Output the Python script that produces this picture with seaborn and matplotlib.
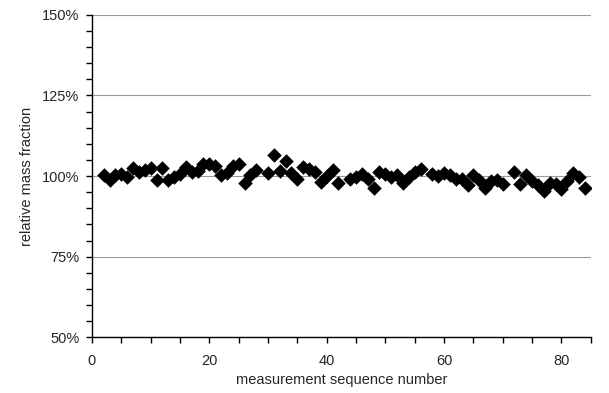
import seaborn as sns
import matplotlib.pyplot as plt
import matplotlib.ticker as ticker
import pandas as pd

# measurement sequence number and relative mass fraction (%)
seq = [2, 3, 4, 5, 6, 7, 8, 9, 10, 11, 12, 13, 14, 15, 16, 17, 18, 19, 20,
       21, 22, 23, 24, 25, 26, 27, 28, 30, 31, 32, 33, 34, 35, 36, 37, 38,
       39, 40, 41, 42, 44, 45, 46, 47, 48, 49, 50, 51, 52, 53, 54, 55, 56,
       58, 59, 60, 61, 62, 63, 64, 65, 66, 67, 68, 69, 70, 72, 73, 74, 75,
       76, 77, 78, 79, 80, 81, 82, 83, 84]
frac = [100.2, 98.7, 100.4, 100.6, 99.8, 102.5, 101.4, 101.9, 102.5, 98.9,
        102.5, 98.7, 99.8, 100.7, 102.9, 101.2, 101.5, 103.8, 103.6, 103.0,
        100.2, 101.0, 103.0, 103.8, 97.8, 100.2, 101.8, 101.0, 106.5, 101.5,
        104.8, 100.9, 99.2, 102.8, 102.3, 101.2, 98.1, 99.9, 101.8, 97.8,
        99.2, 99.7, 100.7, 99.2, 96.3, 101.2, 100.5, 99.7, 100.2, 97.8,
        99.7, 101.2, 102.2, 100.5, 99.9, 100.9, 100.2, 99.2, 99.2, 97.1,
        100.2, 98.9, 96.4, 98.4, 98.9, 97.6, 101.2, 97.6, 100.2, 98.4,
        97.1, 95.5, 97.8, 97.4, 96.0, 98.4, 101.0, 99.7, 96.4]

df = pd.DataFrame({"seq": seq, "frac": [v / 100 for v in frac]})

sns.set_style("white")
plt.rcParams['font.family'] = ['Liberation Sans', 'DejaVu Sans']

fig = plt.figure(figsize=(6.09, 3.93), dpi=100)
ax = fig.add_axes([0.151, 0.142, 0.819, 0.820])

sns.scatterplot(data=df, x="seq", y="frac", marker="D", color="black",
                s=55, linewidth=0, ax=ax, zorder=3)

ax.set_xlim(0, 85)
ax.set_ylim(0.5, 1.5)
ax.xaxis.set_major_locator(ticker.MultipleLocator(20))
ax.xaxis.set_minor_locator(ticker.MultipleLocator(5))
ax.yaxis.set_major_locator(ticker.MultipleLocator(0.25))
ax.yaxis.set_minor_locator(ticker.MultipleLocator(0.05))
ax.yaxis.set_major_formatter(ticker.PercentFormatter(1.0, decimals=0))

ax.grid(axis="y", which="major", color="#9a9a9a", linewidth=0.8)
ax.set_axisbelow(True)
sns.despine(ax=ax)
for side in ["left", "bottom"]:
    ax.spines[side].set_color("black")
    ax.spines[side].set_linewidth(1.0)

ax.tick_params(which="both", direction="out", length=4, width=1,
               color="black", labelsize=10.5, left=True, bottom=True)
ax.tick_params(axis="x", which="major", pad=8)
ax.tick_params(axis="y", which="major", pad=5)

ax.set_xlabel("measurement sequence number", fontsize=10.5, labelpad=4)
ax.set_ylabel("relative mass fraction", fontsize=10.5, labelpad=6)

fig.savefig("out.png", dpi=100)
